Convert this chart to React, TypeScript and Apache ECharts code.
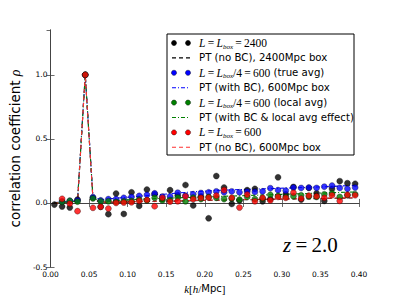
import React, { useEffect, useRef } from "react";
import * as echarts from "echarts";

const kValues = [0.005, 0.015, 0.025, 0.035, 0.045, 0.055, 0.065, 0.075, 0.085, 0.095, 0.105, 0.115, 0.125, 0.135, 0.145, 0.155, 0.165, 0.175, 0.185, 0.195, 0.205, 0.215, 0.225, 0.235, 0.245, 0.255, 0.265, 0.275, 0.285, 0.295, 0.305, 0.315, 0.325, 0.335, 0.345, 0.355, 0.365, 0.375, 0.385, 0.395];

const black2400 = [-0.013, -0.028, -0.036, 0.027, 1.0, 0.04, -0.03, -0.088, 0.073, -0.086, 0.083, -0.023, 0.104, 0.07, 0.03, 0.1, 0.06, 0.14, -0.02, 0.052, -0.12, 0.21, 0.12, -0.008, 0.02, 0.1, 0.11, 0.013, 0.03, 0.2, 0.068, 0.125, 0.026, 0.117, 0.075, 0.016, 0.11, 0.17, 0.154, 0.15];
const blueTrue600 = [null, 0.012, 0.016, 0.02, 1.0, 0.045, 0.02, 0.03, 0.03, 0.04, 0.047, 0.055, 0.063, 0.075, 0.05, 0.052, 0.08, 0.057, 0.068, 0.078, 0.083, 0.09, 0.083, 0.09, 0.083, 0.088, 0.086, 0.09, 0.115, 0.1, 0.096, 0.12, 0.117, 0.12, 0.117, 0.127, 0.135, 0.117, 0.11, 0.12];
const greenLocal600 = [null, 0.008, 0.017, 0.01, 1.0, 0.035, 0.013, 0.013, 0.008, 0.013, 0.016, 0.026, 0.02, 0.04, 0.02, 0.023, 0.042, 0.013, 0.042, 0.03, 0.047, 0.04, 0.03, 0.034, 0.026, 0.047, 0.03, 0.034, 0.063, 0.055, 0.047, 0.052, 0.06, 0.05, 0.047, 0.068, 0.075, 0.047, 0.06, 0.068];
const red600 = [null, 0.032, -0.006, -0.064, 1.0, -0.038, -0.03, -0.044, 0.0, 0.003, 0.005, 0.016, 0.023, -0.026, 0.04, 0.01, 0.013, 0.052, 0.03, 0.04, 0.042, 0.057, 0.1, 0.04, -0.036, 0.065, 0.013, 0.04, 0.02, 0.047, 0.04, 0.08, 0.034, 0.057, 0.052, 0.04, 0.06, 0.016, 0.063, 0.06];

const ptNoBC2400 = [0.0, 0.0, 0.0, 0.002, 1.0, 0.03, 0.004, 0.005, 0.006, 0.007, 0.008, 0.01, 0.011, 0.012, 0.013, 0.014, 0.015, 0.016, 0.018, 0.019, 0.02, 0.021, 0.022, 0.023, 0.024, 0.025, 0.026, 0.027, 0.028, 0.029, 0.03, 0.031, 0.032, 0.033, 0.034, 0.035, 0.036, 0.037, 0.038, 0.039];
const ptBC600 = [0.003, 0.006, 0.01, 0.02, 1.0, 0.05, 0.025, 0.032, 0.037, 0.042, 0.047, 0.052, 0.057, 0.062, 0.067, 0.072, 0.077, 0.082, 0.087, 0.09, 0.094, 0.098, 0.1, 0.102, 0.104, 0.106, 0.108, 0.11, 0.112, 0.114, 0.116, 0.118, 0.12, 0.122, 0.124, 0.126, 0.129, 0.132, 0.135, 0.138];
const ptLocal600 = [0.002, 0.004, 0.007, 0.015, 1.0, 0.04, 0.012, 0.016, 0.02, 0.023, 0.026, 0.029, 0.031, 0.034, 0.036, 0.038, 0.04, 0.042, 0.044, 0.046, 0.048, 0.05, 0.052, 0.054, 0.056, 0.058, 0.06, 0.062, 0.064, 0.066, 0.068, 0.07, 0.072, 0.074, 0.076, 0.078, 0.08, 0.082, 0.084, 0.086];
const ptNoBC600 = [0.0, 0.0, 0.001, 0.003, 1.0, 0.032, 0.006, 0.007, 0.008, 0.009, 0.01, 0.012, 0.013, 0.014, 0.015, 0.016, 0.017, 0.018, 0.02, 0.021, 0.022, 0.023, 0.024, 0.025, 0.026, 0.027, 0.028, 0.029, 0.03, 0.031, 0.032, 0.033, 0.034, 0.035, 0.036, 0.037, 0.038, 0.039, 0.04, 0.041];

const legendLabels = [
  "{i|L}{n|\u2009=\u2009}{i|L}{s|box}{n|\u2009=\u20092400}",
  "PT (no BC), 2400Mpc box",
  "{i|L}{n|\u2009=\u2009}{i|L}{s|box}{n|/4\u2009=\u2009600}{t| (true avg)}",
  "PT (with BC), 600Mpc box",
  "{i|L}{n|\u2009=\u2009}{i|L}{s|box}{n|/4\u2009=\u2009600}{t| (local avg)}",
  "PT (with BC & local avg effect)",
  "{i|L}{n|\u2009=\u2009}{i|L}{s|box}{n|\u2009=\u2009600}",
  "PT (no BC), 600Mpc box",
];
const legendKinds = ["dots", "dash", "dots", "dashdot", "dots", "dashdot", "dots", "dash"];
const legendColors = ["#000000", "#000000", "#0000ff", "#0000ff", "#008000", "#008000", "#ff0000", "#ff3030"];

const yTitle = "correlation coefficient {r|ρ}";
const xTitle = "{i|k}{m|[}{i|h}{m|/}Mpc{m|]}";
const zLabel = "{i|z}{n|\u2009=\u20092.0}";

const DASH = [4, 3];
const DASHDOT = [4, 2, 1, 2];

function pairs(vals: (number | null)[]) {
  return kValues.map((k, i) => [k, vals[i]]).filter((p) => p[1] !== null);
}

export default function App() {
  const ref = useRef<HTMLDivElement>(null);
  useEffect(() => {
    if (!ref.current) return;
    const chart = echarts.init(ref.current, null, { renderer: "svg" });
    const scatter = (name: string, vals: (number | null)[], color: string) => ({
      name,
      type: "scatter",
      data: pairs(vals),
      symbolSize: 6,
      itemStyle: { color, borderColor: "#000", borderWidth: 0.4 },
      z: 2,
    });
    const line = (name: string, vals: number[], color: string, dash: number[]) => ({
      name,
      type: "line",
      data: pairs(vals),
      showSymbol: false,
      symbol: "none",
      lineStyle: { color, width: 1.1, type: dash },
      z: 2,
    });

    const rich = {
      i: { fontFamily: "Liberation Serif", fontStyle: "italic", fontSize: 11.5, lineHeight: 14 },
      n: { fontFamily: "Liberation Serif", fontSize: 11.5, lineHeight: 14 },
      s: { fontFamily: "Liberation Serif", fontStyle: "italic", fontSize: 7, lineHeight: 8, verticalAlign: "bottom" },
      t: { fontFamily: "DejaVu Sans", fontSize: 10.2, lineHeight: 14 },
    };

    const rowY0 = 43;
    const rowDy = 14.9;
    const legendEls: any[] = [
      {
        type: "rect",
        shape: { x: 167, y: 34, width: 187, height: 121 },
        style: { fill: "#fff", stroke: "#000", lineWidth: 1 },
        z: 100,
      },
    ];
    legendLabels.forEach((lab, j) => {
      const y = rowY0 + rowDy * j;
      const kind = legendKinds[j];
      const c = legendColors[j];
      if (kind === "dots") {
        legendEls.push({ type: "circle", shape: { cx: 174, cy: y, r: 2.6 }, style: { fill: c, stroke: "#000", lineWidth: 0.4 }, z: 101 });
        legendEls.push({ type: "circle", shape: { cx: 188, cy: y, r: 2.6 }, style: { fill: c, stroke: "#000", lineWidth: 0.4 }, z: 101 });
      } else {
        legendEls.push({
          type: "line",
          shape: { x1: 172, y1: y, x2: 190, y2: y },
          style: { stroke: c, lineWidth: 1.1, lineDash: kind === "dash" ? DASH : DASHDOT },
          z: 101,
        });
      }
      legendEls.push({
        type: "text",
        x: 199,
        y,
        style: {
          text: lab,
          fontFamily: "DejaVu Sans",
          fontSize: 10.2,
          fill: "#000",
          verticalAlign: "middle",
          align: "left",
          rich,
        },
        z: 101,
      });
    });
    legendEls.push({
      type: "text",
      x: 283,
      y: 245,
      style: {
        text: zLabel,
        fill: "#000",
        verticalAlign: "middle",
        align: "left",
        rich: {
          i: { fontFamily: "Liberation Serif", fontStyle: "italic", fontSize: 21 },
          n: { fontFamily: "Liberation Serif", fontSize: 21 },
        },
      },
      z: 101,
    });

    const axisLine = { show: true, lineStyle: { color: "#444", width: 1 } };
    const axisTick = { show: true, inside: true, length: 4, lineStyle: { color: "#444", width: 0.8 } };

    chart.setOption({
      animation: false,
      backgroundColor: "#fff",
      grid: { left: 50, right: 40, top: 30, bottom: 31 },
      xAxis: [
        {
          type: "value",
          min: 0,
          max: 0.4,
          interval: 0.05,
          axisLine,
          axisTick,
          splitLine: { show: false },
          axisLabel: {
            fontFamily: "DejaVu Sans",
            fontSize: 7.5,
            color: "#000",
            margin: 3,
            formatter: (v: number) => v.toFixed(2),
          },
          name: xTitle,
          nameLocation: "middle",
          nameGap: 16,
          nameTextStyle: {
            fontFamily: "DejaVu Sans",
            fontSize: 10,
            color: "#000",
            rich: {
              i: { fontFamily: "Liberation Serif", fontStyle: "italic", fontSize: 11 },
              m: { fontFamily: "Liberation Serif", fontSize: 11 },
            },
          },
        },
        {
          type: "value",
          position: "top",
          min: 0,
          max: 0.4,
          interval: 0.05,
          axisLine,
          axisTick,
          splitLine: { show: false },
          axisLabel: { show: false },
        },
      ],
      yAxis: [
        {
          type: "value",
          min: -0.5,
          max: 1.35,
          interval: 0.5,
          axisLine,
          axisTick,
          splitLine: { show: false },
          axisLabel: {
            fontFamily: "DejaVu Sans",
            fontSize: 7.5,
            color: "#000",
            margin: 3,
            showMaxLabel: false,
            formatter: (v: number) => v.toFixed(1),
          },
          name: yTitle,
          nameLocation: "middle",
          nameGap: 19,
          nameTextStyle: {
            fontFamily: "DejaVu Sans",
            fontSize: 13.5,
            color: "#000",
            rich: {
              r: { fontFamily: "Liberation Serif", fontStyle: "italic", fontSize: 14 },
            },
          },
        },
        {
          type: "value",
          position: "right",
          min: -0.5,
          max: 1.35,
          interval: 0.5,
          axisLine,
          axisTick,
          splitLine: { show: false },
          axisLabel: { show: false },
        },
      ],
      graphic: legendEls,
      series: [
        scatter("L=Lbox=2400", black2400, "#000000"),
        line("PT (no BC), 2400Mpc box", ptNoBC2400, "#000000", DASH),
        scatter("L=Lbox/4=600 (true avg)", blueTrue600, "#0000ff"),
        line("PT (with BC), 600Mpc box", ptBC600, "#0000ff", DASHDOT),
        scatter("L=Lbox/4=600 (local avg)", greenLocal600, "#008000"),
        line("PT (with BC & local avg effect)", ptLocal600, "#008000", DASHDOT),
        scatter("L=Lbox=600", red600, "#ff0000"),
        line("PT (no BC), 600Mpc box", ptNoBC600, "#ff3030", DASH),
      ],
    });
    return () => chart.dispose();
  }, []);
  return (
    <div
      ref={ref}
      style={{ position: "fixed", left: 0, top: 0, width: 399, height: 299, background: "#fff" }}
    />
  );
}
